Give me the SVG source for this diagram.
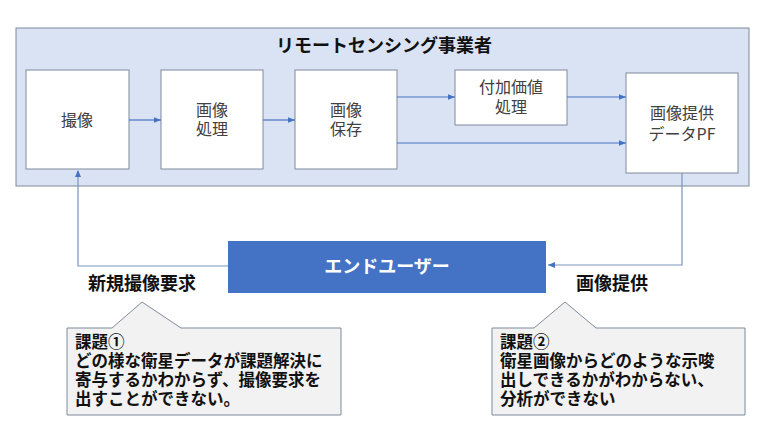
<svg xmlns="http://www.w3.org/2000/svg" width="768" height="443" viewBox="0 0 768 443">
<defs>
<marker id="ah" viewBox="0 0 10 10" refX="10" refY="5" markerWidth="7" markerHeight="7" markerUnits="userSpaceOnUse" orient="auto">
<path d="M0,1 L10,5 L0,9 z" fill="#4472c4"/>
</marker>
<style>
.jp{font-family:"Noto Sans CJK JP","Noto Sans",sans-serif}
.box{fill:#ffffff;stroke:#7f8a9a;stroke-width:1}
.bt{font-size:16px;fill:#404040;text-anchor:middle}
.con{fill:none;stroke:#4472c4;stroke-width:1.2;marker-end:url(#ah)}
.fb{fill:none;stroke:#7b93bd;stroke-width:1.2}
.call{fill:#f2f2f2;stroke:#7f8a9a;stroke-width:1}
.ct{font-size:16.5px;font-weight:bold;fill:#111}
.lbl{font-size:18px;font-weight:bold;fill:#111}
</style>
</defs>
<rect width="768" height="443" fill="#ffffff"/>
<g id="container">
<rect x="16" y="28" width="733" height="158" fill="#dae3f3" stroke="#7f8a9a" stroke-width="1"/>
<text class="jp" x="384" y="52" font-size="18px" font-weight="bold" fill="#111" text-anchor="middle">リモートセンシング事業者</text>
</g>
<g id="n1"><rect class="box" x="26" y="70" width="103" height="99"/><text class="jp bt" x="77" y="126">撮像</text></g>
<g id="n2"><rect class="box" x="161" y="70" width="102" height="99"/><text class="jp bt" x="212" y="116">画像</text><text class="jp bt" x="212" y="135">処理</text></g>
<g id="n3"><rect class="box" x="295" y="70" width="102" height="99"/><text class="jp bt" x="346" y="116">画像</text><text class="jp bt" x="346" y="135">保存</text></g>
<g id="n4"><rect class="box" x="455" y="70" width="112" height="55"/><text class="jp bt" x="511" y="93">付加価値</text><text class="jp bt" x="511" y="113">処理</text></g>
<g id="n5"><rect class="box" x="626" y="73" width="112" height="100"/><text class="jp bt" x="682" y="119">画像提供</text><text class="jp bt" x="682" y="140">データPF</text></g>
<g id="enduser"><rect x="228" y="241" width="318" height="52" fill="#4472c4"/><text class="jp" x="387" y="273" font-size="18px" font-weight="bold" fill="#ffffff" text-anchor="middle">エンドユーザー</text></g>
<g id="connectors">
<line class="con" x1="129" y1="120" x2="161" y2="120"/>
<line class="con" x1="263" y1="120" x2="295" y2="120"/>
<line class="con" x1="397" y1="97" x2="455" y2="97"/>
<line class="con" x1="567" y1="97" x2="626" y2="97"/>
<line class="con" x1="397" y1="143" x2="626" y2="143"/>
<path class="fb" d="M682,173 V265 H548"/>
<path d="M548,265 L555,262 L555,268 z" fill="#4472c4"/>
<path class="fb" d="M228,266 H78 V171"/>
<path d="M78,170 L75,177 L81,177 z" fill="#4472c4"/>
</g>
<g id="label1"><text class="jp lbl" x="88" y="290">新規撮像要求</text></g>
<g id="label2"><text class="jp lbl" x="576" y="290">画像提供</text></g>
<g id="callout1">
<path class="call" d="M67,328 H112 L142,302 L181,328 H341 V415 H67 Z"/>
<text class="jp ct" x="75" y="348">課題①</text>
<text class="jp ct" x="75" y="367">どの様な衛星データが課題解決に</text>
<text class="jp ct" x="75" y="386">寄与するかわからず、撮像要求を</text>
<text class="jp ct" x="75" y="405">出すことができない。</text>
</g>
<g id="callout2">
<path class="call" d="M492,328 H534 L565,302 L596,328 H745 V415 H492 Z"/>
<text class="jp ct" x="500" y="348">課題②</text>
<text class="jp ct" x="500" y="367">衛星画像からどのような示唆</text>
<text class="jp ct" x="500" y="386">出しできるかがわからない、</text>
<text class="jp ct" x="500" y="405">分析ができない</text>
</g>
</svg>
